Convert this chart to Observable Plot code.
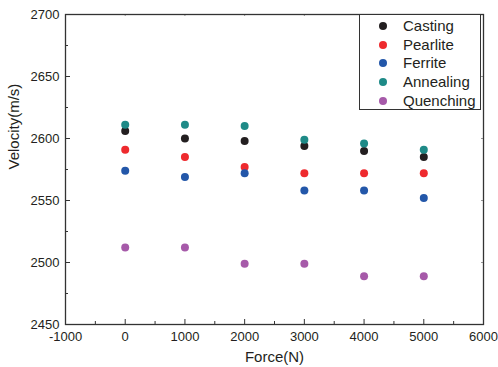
<!DOCTYPE html>
<html>
<head>
<meta charset="utf-8">
<script src="https://cdn.jsdelivr.net/npm/d3@7"></script>
<script src="https://cdn.jsdelivr.net/npm/@observablehq/plot@0.6"></script>
<style>
  html, body { margin: 0; padding: 0; background: #fff; }
  #wrap { position: relative; width: 498px; height: 367px; font-family: "Liberation Sans", Arial, sans-serif; }
  #legend { position: absolute; left: 359px; top: 14px; width: 122px; height: 96px; border: 1px solid #333; background: #fff; box-sizing: border-box; }
  .row { position: absolute; left: 0; height: 18px; width: 100%; }
  .dot { position: absolute; left: 19px; top: 5px; width: 8px; height: 8px; border-radius: 50%; }
  .lab { position: absolute; left: 43px; top: 0; font-size: 15px; line-height: 18px; color: #231f20; }
</style>
</head>
<body>
<div id="wrap"><div id="legend"></div></div>
<script>
const forces = [0, 1000, 2000, 3000, 4000, 5000];
const seriesNames = ["Casting", "Pearlite", "Ferrite", "Annealing", "Quenching"];
const seriesColors = ["#231f20", "#ee2a2e", "#2357a9", "#1e8a87", "#a65aa9"];
const casting   = [2606, 2600, 2598, 2594, 2590, 2585];
const pearlite  = [2591, 2585, 2577, 2572, 2572, 2572];
const ferrite   = [2574, 2569, 2572, 2558, 2558, 2552];
const annealing = [2611, 2611, 2610, 2599, 2596, 2591];
const quenching = [2512, 2512, 2499, 2499, 2489, 2489];
const xTicks = [-1000, 0, 1000, 2000, 3000, 4000, 5000, 6000];
const xMinor = [-500, 500, 1500, 2500, 3500, 4500, 5500];
const yTicks = [2450, 2500, 2550, 2600, 2650, 2700];
const yMinor = [2475, 2525, 2575, 2625, 2675];
const xTitle = "Force(N)";
const yTitle = "Velocity(m/s)";

const allSeries = [casting, pearlite, ferrite, annealing, quenching];
const data = [];
allSeries.forEach((vals, i) => vals.forEach((v, j) => data.push({force: forces[j], velocity: v, series: seriesNames[i]})));

const W = 498, H = 367, mL = 65, mR = 15, mT = 14, mB = 43;
const iw = W - mL - mR, ih = H - mT - mB;
const ink = "#333";
const plain = d => String(d);

const chart = Plot.plot({
  width: W, height: H,
  marginLeft: mL, marginRight: mR, marginTop: mT, marginBottom: mB,
  style: {fontFamily: "'Liberation Sans', Arial, sans-serif", color: "#231f20", background: "#fff"},
  x: {domain: [-1000, 6000]},
  y: {domain: [2450, 2700]},
  color: {domain: seriesNames, range: seriesColors},
  marks: [
    Plot.tickX(xTicks, {x: d => d, insetTop: ih - 5, stroke: ink}),
    Plot.tickX(xMinor, {x: d => d, insetTop: ih - 3, stroke: ink}),
    Plot.tickX(xTicks, {x: d => d, insetBottom: ih - 2, stroke: "#999"}),
    Plot.tickY(yTicks, {y: d => d, insetRight: iw - 5, stroke: ink}),
    Plot.tickY(yMinor, {y: d => d, insetRight: iw - 3, stroke: ink}),
    Plot.tickY(yTicks, {y: d => d, insetLeft: iw - 2, stroke: "#999"}),
    Plot.frame({stroke: ink, strokeWidth: 1.3}),
    Plot.axisX(xTicks, {tickSize: 0, tickPadding: 7, fontSize: 13, label: null, tickFormat: plain}),
    Plot.axisY(yTicks, {tickSize: 0, tickPadding: 6, fontSize: 13, label: null, tickFormat: plain}),
    Plot.text([xTitle], {frameAnchor: "bottom", dy: 37, text: d => d, fontSize: 15}),
    Plot.text([yTitle], {frameAnchor: "left", dx: -51, rotate: -90, text: d => d, fontSize: 15}),
    Plot.dot(data, {x: "force", y: "velocity", fill: "series", r: 4})
  ]
});
document.getElementById("wrap").prepend(chart);

const legend = document.getElementById("legend");
seriesNames.forEach((name, i) => {
  const row = document.createElement("div");
  row.className = "row";
  row.style.top = (2 + i * 18.7) + "px";
  const dot = document.createElement("div");
  dot.className = "dot";
  dot.style.background = seriesColors[i];
  const lab = document.createElement("div");
  lab.className = "lab";
  lab.textContent = name;
  row.appendChild(dot); row.appendChild(lab);
  legend.appendChild(row);
});
</script>
</body>
</html>
